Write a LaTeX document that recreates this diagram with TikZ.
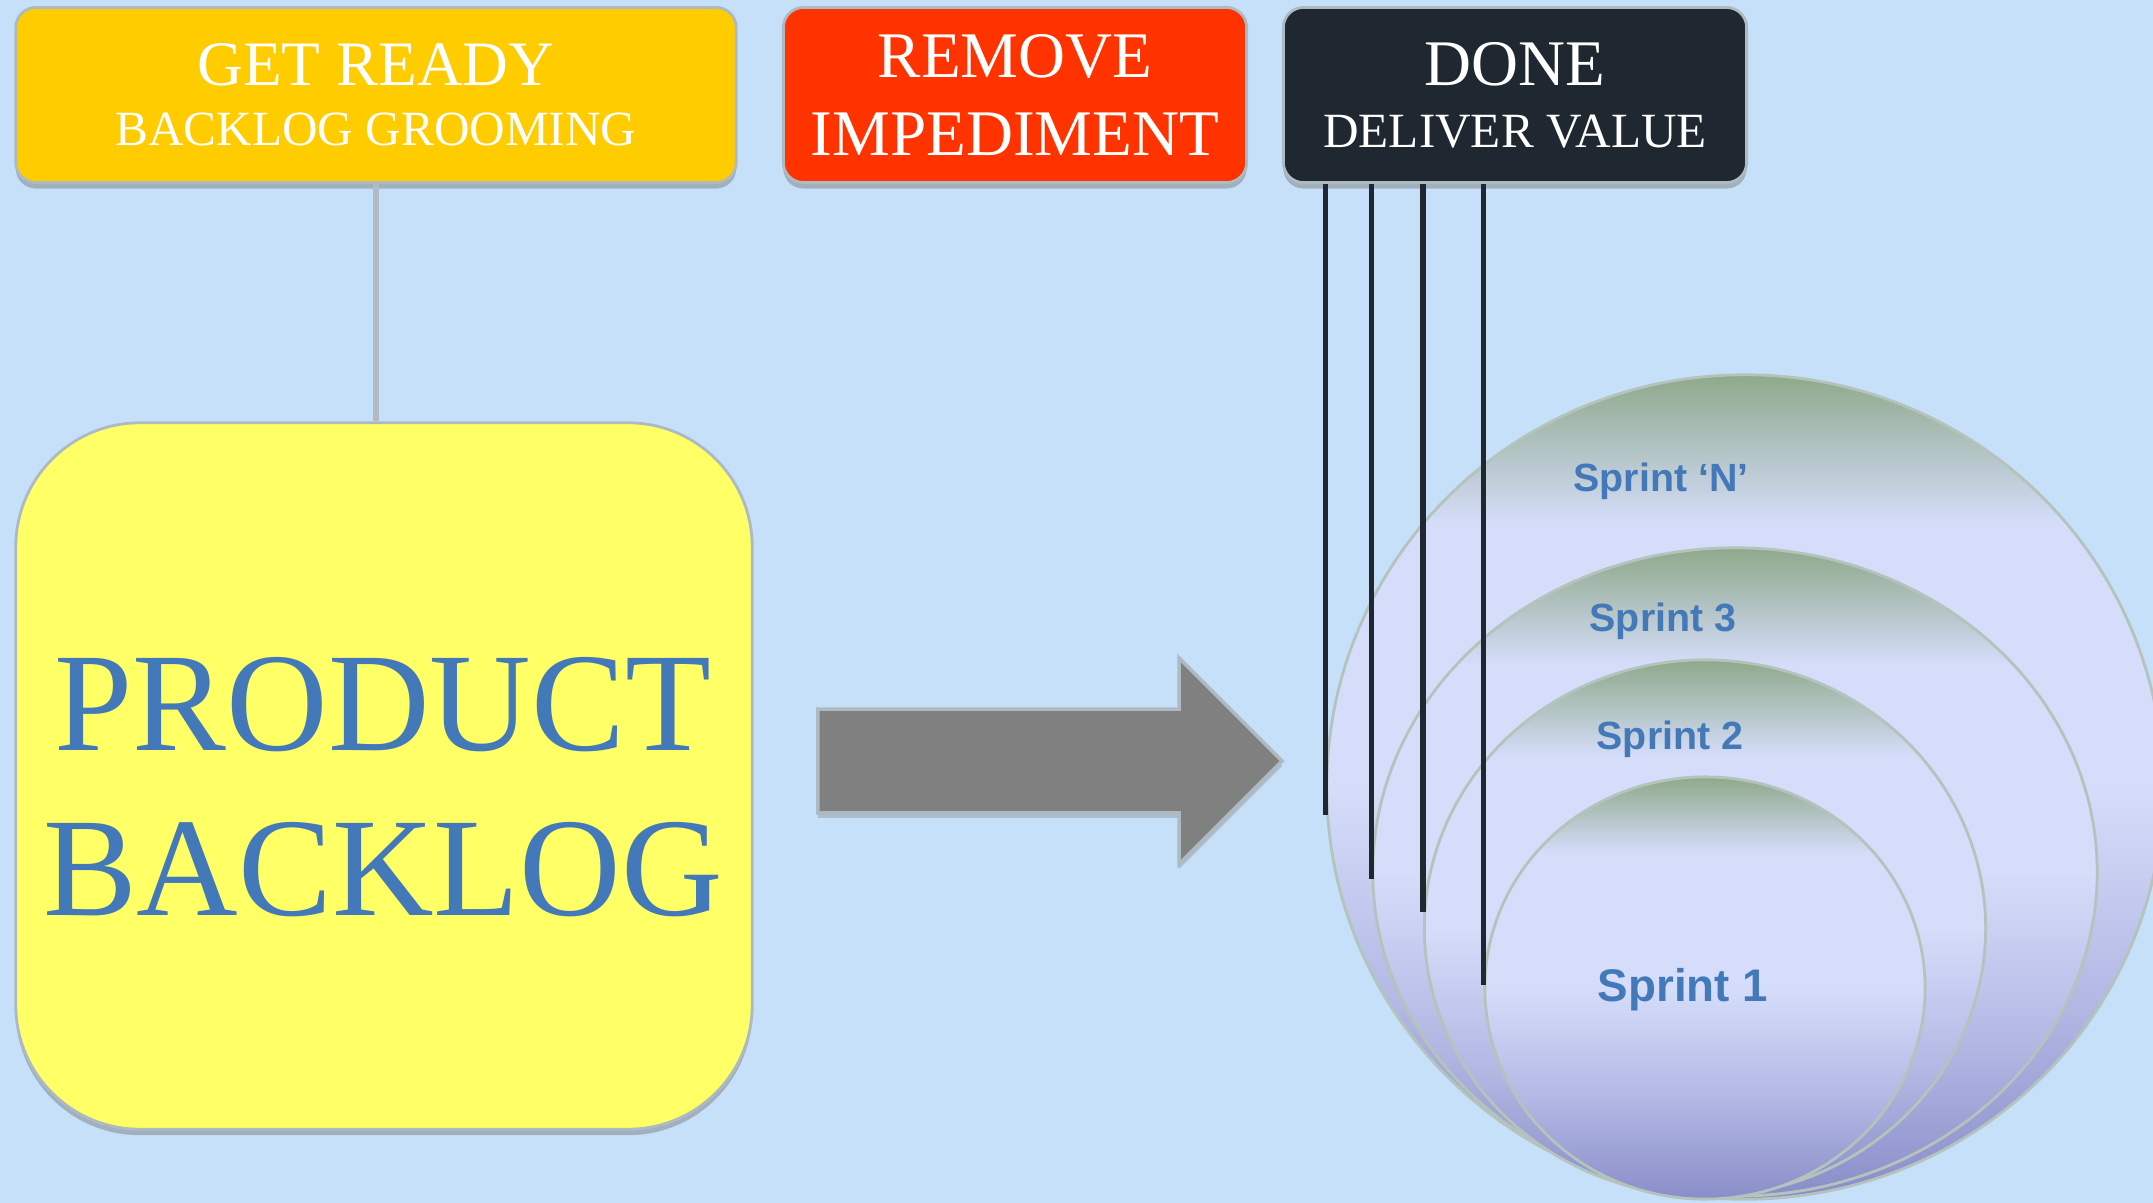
\documentclass[tikz,border=0pt]{standalone}
\usepackage{fontspec}
\setmainfont{Liberation Serif}
\newfontfamily\sprintfont{Liberation Sans}
\usepackage{xcolor}
\definecolor{bgblue}{HTML}{C6E0FA}
\definecolor{readyyellow}{HTML}{FFCC00}
\definecolor{removered}{HTML}{FF3300}
\definecolor{doneblack}{HTML}{1F2830}
\definecolor{backyellow}{HTML}{FFFF66}
\definecolor{titleblue}{HTML}{4479B9}
\definecolor{edgegray}{HTML}{AEBAC2}
\definecolor{linkgray}{HTML}{B2BBC3}
\definecolor{arrowgray}{HTML}{808080}
\definecolor{ringgray}{HTML}{B4C3BC}
\definecolor{sprinttop}{HTML}{8FA98B}
\definecolor{sprintmid}{HTML}{D5DDFA}
\definecolor{sprintlow}{HTML}{B3B8E4}
\definecolor{sprintbot}{HTML}{8A8EC9}
\usepackage{tikz}
\usetikzlibrary{arrows.meta,positioning,shapes.geometric,shapes.arrows,shadows}

\pgfdeclareverticalshading{sprintshade}{100bp}{color(0bp)=(sprintbot); color(25bp)=(sprintbot); color(37bp)=(sprintlow); color(50bp)=(sprintmid); color(66bp)=(sprintmid); color(75bp)=(sprinttop); color(100bp)=(sprinttop)}

\begin{document}
\begin{tikzpicture}[
  x=0.01cm, y=-0.01cm,
  tag/.style={draw=edgegray,line width=0.8pt,rounded corners=0.2cm,minimum height=1.75cm,inner sep=0pt,align=center,text=white,
    drop shadow={shadow xshift=0pt,shadow yshift=-0.06cm,opacity=0.5}},
  backlog/.style={draw=edgegray,line width=0.8pt,fill=backyellow,rounded corners=1.24cm,minimum width=7.36cm,minimum height=7.06cm,
    inner sep=0pt,drop shadow={shadow xshift=0pt,shadow yshift=-0.06cm,opacity=0.5}},
  backlogtext/.style={align=center,text=titleblue,inner sep=0pt,font=\fontsize{40}{46.7}\selectfont},
  bigarrow/.style={single arrow,fill=arrowgray,draw=edgegray,line width=1pt,minimum height=4.64cm,inner xsep=0pt,inner ysep=0.5cm,
    single arrow head extend=0.51cm,drop shadow={shadow xshift=0pt,shadow yshift=-0.05cm,opacity=0.35}},
  sprint/.style={ellipse,draw=ringgray,line width=0.8pt,shading=sprintshade,inner sep=0pt},
  sprintlabel/.style={font=\sprintfont\bfseries\fontsize{11.2}{13}\selectfont,text=titleblue,anchor=base},
  link/.style={draw=linkgray,line width=1.7pt},
  drop/.style={draw=doneblack,line width=1.5pt},
]
  \fill[bgblue] (0,0) rectangle (2153,1203);
  \useasboundingbox (0,0) rectangle (2153,1203);

  % Top boxes
  \node[tag,fill=readyyellow,minimum width=7.2cm,font=\fontsize{18}{17}\selectfont] (ready) at (376,95)
    {GET READY\\{\fontsize{14}{17}\selectfont BACKLOG GROOMING}};
  \node[tag,fill=removered,minimum width=4.63cm,font=\fontsize{18.5}{22}\selectfont] (remove) at (1015,95)
    {REMOVE\\IMPEDIMENT};
  \node[tag,fill=doneblack,minimum width=4.63cm,font=\fontsize{18.5}{17.6}\selectfont] (done) at (1515,95)
    {DONE\\{\fontsize{14}{17.6}\selectfont DELIVER VALUE}};

  % Backlog and arrow
  \node[backlog] (backlog) at (384,776) {};
  \node[backlogtext] (title) at (383,787) {PRODUCT\\BACKLOG};
  \draw[link] (ready.south) -- (ready.south |- backlog.north);
  \node[bigarrow] (push) at (1024,761) {};

  % Sprints, largest first
  \node[sprint,minimum width=8.36cm,minimum height=8.24cm] (sN) at (1745,787) {};
  \node[sprint,minimum width=7.24cm,minimum height=6.48cm] (s3) at (1735,872) {};
  \node[sprint,minimum width=5.61cm,minimum height=5.36cm] (s2) at (1705,928) {};
  \node[sprint,minimum width=4.40cm,minimum height=4.22cm] (s1) at (1705,988) {};

  \node[sprintlabel] (lN) at (1661,491) {Sprint ‘N’};
  \node[sprintlabel] (l3) at (1663,631) {Sprint 3};
  \node[sprintlabel] (l2) at (1670,749) {Sprint 2};
  \node[sprintlabel,font=\sprintfont\bfseries\fontsize{13}{15}\selectfont] (l1) at (1683,1001) {Sprint 1};

  % Done lines
  \foreach \s/\d in {sN/0.28,s3/0.07,s2/-0.16,s1/-0.03}
    \draw[drop] (\s.west |- done.south) -- ([yshift=-\d cm]\s.west);
\end{tikzpicture}
\end{document}
